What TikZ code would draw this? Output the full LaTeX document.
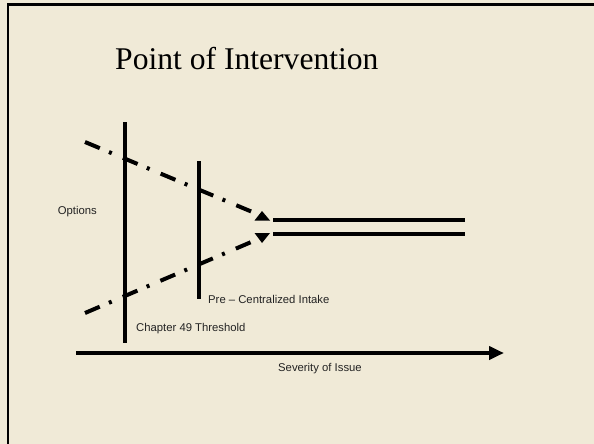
\documentclass[tikz,border=0pt]{standalone}
\usepackage{fontspec}
\setmainfont{Liberation Serif}
\newfontfamily\labelfont{Liberation Sans}
\usetikzlibrary{arrows.meta}
\definecolor{slidebg}{RGB}{240,234,215}
\definecolor{labelgrey}{RGB}{35,35,35}
\tikzset{
  solidbar/.style={line width=3.2pt, black},
  dashdotline/.style={line width=4pt, black, dash pattern=on 16pt off 10pt on 3pt off 12pt},
  tipshape/.style={fill=black, draw=none},
  smalllabel/.style={font=\labelfont\fontsize{11.3}{13}\selectfont, text=labelgrey, inner sep=0pt},
  axisline/.style={line width=4.5pt, black, -{Triangle[length=15pt,width=13pt]}}
}
\begin{document}
\begin{tikzpicture}[x=1pt,y=-1pt]
\useasboundingbox (0,0) rectangle (594,444);
\fill[slidebg] (0,0) rectangle (594,444);
% slide border (left and top)
\draw[line width=2.6pt, black] (8,444) -- (8,4.5) -- (594,4.5);
% title
\node[anchor=base west, inner sep=0pt, font=\fontsize{31.6}{36}\selectfont] (title) at (115,70) {Point of Intervention};
% coordinates
\coordinate (ch49top) at (125,122);
\coordinate (ch49bot) at (125,343);
\coordinate (pretop) at (199,161);
\coordinate (prebot) at (199,299);
\coordinate (upstart) at (85,142);
\coordinate (upend) at (256,213.5);
\coordinate (lowstart) at (85,313);
\coordinate (lowend) at (256,240);
\coordinate (d1s) at (273,220);
\coordinate (d1e) at (465,220);
\coordinate (d2s) at (273,234);
\coordinate (d2e) at (465,234);
\coordinate (axs) at (76,353);
\coordinate (axe) at (504,353);
% vertical thresholds
\draw[solidbar] (ch49top) -- (ch49bot);
\draw[solidbar] (pretop) -- (prebot);
% converging dash-dot lines
\draw[dashdotline] (upstart) -- (upend);
\draw[dashdotline] (lowstart) -- (lowend);
% arrowheads
\fill[tipshape] (254.5,220.5) -- (270,220.5) -- (262,211) -- cycle;
\fill[tipshape] (254.5,233) -- (270,233) -- (262,243) -- cycle;
% double line
\draw[solidbar] (d1s) -- (d1e);
\draw[solidbar] (d2s) -- (d2e);
% axis
\draw[axisline] (axs) -- (axe);
% labels
\node[smalllabel, anchor=east] (options) at (97,212) {Options};
\node[smalllabel, anchor=west] (prelabel) at (208,299) {Pre – Centralized Intake};
\node[smalllabel, anchor=west] (chlabel) at (136,329) {Chapter 49 Threshold};
\node[smalllabel, anchor=west] (sevlabel) at (278,369) {Severity of Issue};
\end{tikzpicture}
\end{document}
